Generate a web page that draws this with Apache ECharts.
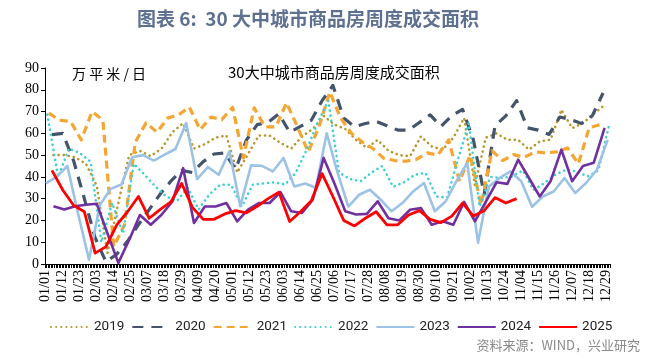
<!DOCTYPE html>
<html>
<head>
<meta charset="utf-8">
<script src="https://cdn.jsdelivr.net/npm/echarts@6/dist/echarts.min.js"></script>
<style>
html,body{margin:0;padding:0;background:#fff;}
#c{width:660px;height:359px;}
</style>
</head>
<body>
<div id="c"></div>
<script>
// ---- data ----
const seriesNames = ['2019', '2020', '2021', '2022', '2023', '2024', '2025'];
// day-of-year index of each series' first weekly observation
const firstDay = [5, 4, 2, 1, 0, 5, 4];
const v2019 = [50, 50, 49, 46, 36, 5, 28, 50, 52, 49.5, 53, 60.5, 64.7, 53, 55, 58, 59, 42, 50.5, 59, 59, 55.6, 53, 58.6, 62, 68, 64, 62, 57, 53.3, 57, 52, 50, 49.5, 58.6, 54, 52.5, 58, 67, 36, 58, 60, 57, 57, 52.5, 56.3, 57.1, 70.8, 62.4, 64.7, 69, 73];
const v2020 = [59.4, 60, 47.5, 30, 12, 1, 4.5, 10.5, 18, 25, 32, 38, 43, 42, 47, 50.5, 51, 43.5, 57, 64, 65, 69, 60.5, 63.2, 66, 75, 82, 67, 63, 64.5, 65.5, 63.5, 61.5, 61.5, 65, 68.5, 63.2, 68, 71, 57, 32, 63.5, 68, 75, 62.5, 61.5, 59.5, 67.5, 66.3, 64.5, 68, 78.5];
const v2021 = [69.3, 66, 65.5, 57, 70, 66, 8, 18, 56, 64.8, 60.5, 67, 68.5, 72, 61.7, 67.5, 66.3, 72, 48.7, 71.7, 63, 63, 74, 63, 51.5, 63, 79, 67, 60, 56, 53, 48.5, 47.5, 47.2, 48, 51, 50, 57, 38, 50, 27, 52, 47.5, 50.2, 49, 51.5, 51, 51.5, 53.3, 46, 62.5, 64];
const v2022 = [68.6, 40, 53, 51, 47, 10, 28, 14, 46, 41, 35.6, 31, 29, 35, 25, 32, 36.4, 36.4, 26.4, 36.4, 37, 37.5, 36.5, 42, 52.5, 64.7, 75, 42, 39, 38, 42, 45, 35.5, 37.5, 41, 41.8, 31, 30.5, 48, 64.7, 26.4, 40, 39.5, 40.2, 43, 34, 37.2, 41, 43.3, 42.5, 40.2, 43, 64];
const v2023 = [37, 40, 45, 23, 2, 27, 34.5, 36.5, 49, 50, 47.5, 50.2, 52.8, 64.7, 39, 44.5, 41, 51.7, 26.5, 45.3, 45.1, 42.5, 48.7, 35.6, 37, 35, 60, 42, 26.4, 31.8, 34.1, 29.5, 24.2, 28, 33.3, 37.2, 24.2, 28.7, 38, 46.4, 9.8, 35.5, 39.5, 42.5, 38, 26.3, 31, 33.3, 39.5, 32.6, 37.2, 43.3, 57];
const v2024 = [26.5, 25, 26.5, 27.2, 27.7, 14, 0.5, 11, 22.5, 18, 22.6, 28.7, 44, 18.8, 26.4, 26.4, 28, 19.6, 25, 28, 28, 33, 24.2, 23.4, 29.5, 48.7, 37, 24.2, 22.7, 23, 28.8, 21, 20, 24.9, 25.7, 18, 19.6, 18, 28.5, 19.6, 28.5, 37.5, 36.8, 47.9, 39.5, 31, 38, 52.5, 38, 45, 46.5, 62.5];
const v2025 = [43, 34, 27, 24, 5, 8, 18, 24, 31, 21, 25, 28.5, 37, 26, 20.5, 20.5, 23, 24.5, 23.5, 26.5, 30, 33, 19.5, 24, 29, 41.5, 31, 20, 17.5, 21, 24, 18, 18, 22.5, 24.5, 20.5, 19, 22, 28, 22, 24.5, 30.5, 28, 30];
const seriesValues = [v2019, v2020, v2021, v2022, v2023, v2024, v2025];
// calendar used for the category axis (leap year)
const monthDays = [31, 29, 31, 30, 31, 30, 31, 31, 30, 31, 30, 31];
const yTicks = [0, 10, 20, 30, 40, 50, 60, 70, 80, 90];

// ---- build categories ----
const pad = n => (n < 10 ? '0' : '') + n;
const categories = [];
monthDays.forEach((nd, m) => { for (let d = 1; d <= nd; d++) categories.push(pad(m + 1) + '/' + pad(d)); });

const styles = [
  {color: '#b8962b', width: 2.6, type: [0.1, 5], cap: 'round'},
  {color: '#44546a', width: 3.2, type: [11, 8], cap: 'butt'},
  {color: '#f6a530', width: 3.2, type: [8, 5], cap: 'butt'},
  {color: '#3fd0cf', width: 2.6, type: [0.1, 5], cap: 'round'},
  {color: '#9cc2e5', width: 2.6, type: 'solid', cap: 'butt'},
  {color: '#7030a0', width: 2.6, type: 'solid', cap: 'butt'},
  {color: '#ff0000', width: 2.8, type: 'solid', cap: 'butt'}
];

const series = seriesNames.map((name, i) => ({
  name: name,
  type: 'line',
  symbol: 'none',
  showSymbol: false,
  animation: false,
  itemStyle: {color: styles[i].color},
  lineStyle: {color: styles[i].color, width: styles[i].width, type: styles[i].type, cap: styles[i].cap, join: 'round'},
  data: seriesValues[i].map((v, k) => [firstDay[i] + 7 * k, v])
}));

const chart = echarts.init(document.getElementById('c'), null, {renderer: 'canvas'});
chart.setOption({
  backgroundColor: '#ffffff',
  animation: false,
  grid: {left: 45, right: 50, top: 68, bottom: 95, containLabel: false},
  xAxis: {
    type: 'category',
    data: categories,
    boundaryGap: true,
    axisLine: {lineStyle: {color: '#000', width: 1}},
    axisTick: {show: true, interval: 0, length: 4, lineStyle: {color: '#000', width: 1}},
    axisLabel: {interval: 10, rotate: 90, fontFamily: 'Liberation Serif', fontSize: 14, color: '#000', margin: 6},
    splitLine: {show: false}
  },
  yAxis: {
    type: 'value',
    min: yTicks[0],
    max: yTicks[yTicks.length - 1],
    interval: 10,
    axisLine: {show: true, lineStyle: {color: '#000', width: 1}},
    axisTick: {show: true, length: 4, lineStyle: {color: '#000'}},
    axisLabel: {fontFamily: 'Liberation Serif', fontSize: 14, color: '#000', margin: 6},
    splitLine: {show: false}
  },
  legend: {
    data: seriesNames,
    left: 45,
    top: 315,
    width: 610,
    itemWidth: 38,
    itemHeight: 10,
    itemGap: 7,
    itemStyle: {opacity: 0},
    textStyle: {fontFamily: 'Roboto', fontSize: 13.5, color: '#222'}
  },
  graphic: [
    {type: 'text', left: 137, top: 9, style: {text: '图表 6:  30 大中城市商品房周度成交面积', font: 'bold 19px "Noto Sans CJK SC"', fill: '#5d7090'}},
    {type: 'text', left: 72, top: 67, style: {text: '万 平 米 / 日', font: '14px "Noto Sans CJK SC"', fill: '#000'}},
    {type: 'text', left: 228, top: 65, style: {text: '30大中城市商品房周度成交面积', font: '15px "Noto Sans CJK SC"', fill: '#000'}},
    {type: 'text', right: 20, top: 339, style: {text: '资料来源：WIND，兴业研究', font: '13px "Noto Sans CJK SC"', fill: '#8a8a8a'}}
  ],
  series: series
});
</script>
</body>
</html>
